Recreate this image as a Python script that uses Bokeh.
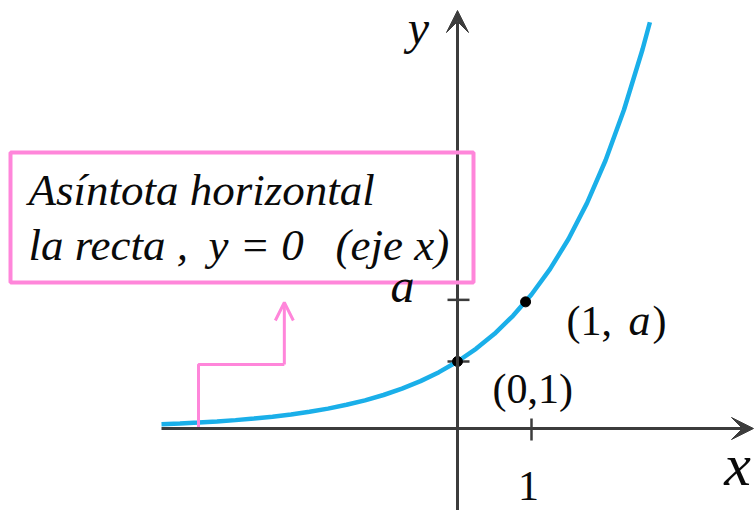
from bokeh.plotting import figure
from bokeh.models import Range1d, Arrow, VeeHead, OpenHead, BoxAnnotation, Label
from bokeh.embed import file_html
from bokeh.resources import INLINE

# ---- data (curve y = a^x, a ~ 2) ----
curve_x = [-4.0, -3.75, -3.5, -3.25, -3.0, -2.75, -2.5, -2.25, -2.0, -1.75, -1.5,
           -1.25, -1.0, -0.75, -0.5, -0.25, 0.0, 0.25, 0.5, 0.75, 1.0, 1.25, 1.5,
           1.75, 2.0, 2.25, 2.5, 2.6]
curve_y = [0.063, 0.074, 0.088, 0.105, 0.125, 0.149, 0.177, 0.210, 0.25, 0.297, 0.354,
           0.420, 0.5, 0.595, 0.707, 0.841, 1.0, 1.189, 1.414, 1.682, 2.0, 2.378, 2.828,
           3.364, 4.0, 4.757, 5.657, 6.063]
point_x = [0.0, 0.92]
point_y = [1.0, 1.89]
x_tick_values = [1.0]
x_tick_labels = ["1"]
y_tick_values = [1.0, 1.92]
y_tick_labels = ["", "a"]
pointer_x = [-3.5, -3.5, -2.34, -2.34]
pointer_y = [0.0, 0.955, 0.955, 1.88]

# ---- layout helpers (page pixel -> data) ----
X0, Y0, UX, UY = 457.0, 428.0, 74.0, 67.0
def X(px):
    return (px - X0) / UX
def Y(py):
    return (Y0 - py) / UY

W, H = 756, 510
p = figure(width=W, height=H, output_backend="svg", toolbar_location=None,
           x_range=Range1d(X(0), X(W)), y_range=Range1d(Y(H), Y(0)),
           x_axis_location=None, y_axis_location=None, min_border=0)
p.grid.visible = False
p.outline_line_color = None
p.background_fill_color = "white"
p.border_fill_color = "white"

AX = "#3c3c3c"
PINK = "#ff86da"
BLUE = "#1aafe9"
SERIF = "Liberation Serif"
TXT = "#0a0a0a"

# axes with arrowheads
p.add_layout(Arrow(end=VeeHead(size=22, fill_color=AX, line_color=AX),
                   x_start=curve_x[0], y_start=0, x_end=X(753), y_end=0,
                   line_color=AX, line_width=3))
p.add_layout(Arrow(end=VeeHead(size=22, fill_color=AX, line_color=AX),
                   x_start=0, y_start=Y(520), x_end=0, y_end=Y(10),
                   line_color=AX, line_width=3))

# ticks
p.segment(x0=x_tick_values, x1=x_tick_values,
          y0=[Y(418)] * len(x_tick_values), y1=[Y(440)] * len(x_tick_values),
          line_color=AX, line_width=2.5)
p.segment(x0=[X(447)] * len(y_tick_values), x1=[X(469)] * len(y_tick_values),
          y0=y_tick_values, y1=y_tick_values, line_color=AX, line_width=2.5)

# curve
p.line(curve_x, curve_y, line_color=BLUE, line_width=4.5)
p.scatter(point_x, point_y, size=10, color="black")

# pointer arrow
p.line(pointer_x[:3], pointer_y[:3], line_color=PINK, line_width=3)
p.add_layout(Arrow(end=OpenHead(size=18, line_color=PINK, line_width=3),
                   x_start=pointer_x[2], y_start=pointer_y[2],
                   x_end=pointer_x[3], y_end=pointer_y[3],
                   line_color=PINK, line_width=3))

# annotation box
p.add_layout(BoxAnnotation(left=X(10), right=X(473), top=Y(152), bottom=Y(282),
                           fill_alpha=0, line_color=PINK, line_alpha=1.0, line_width=4))

SHIFT = 0.35  # compensation so that the glyph baseline lands at py

def lab(text, px, py, size, italic=True, align="left"):
    p.add_layout(Label(x=X(px), y=Y(py - SHIFT * size), text=text, text_font=SERIF,
                       text_font_style="italic" if italic else "normal",
                       text_font_size=f"{size}px", text_color=TXT,
                       text_align=align, text_baseline="alphabetic"))

# box texts
lab("Asíntota horizontal", 28, 205, 45)
lab("la recta ,", 28, 260, 45)
lab("y = 0", 208, 260, 45)
lab("(eje x)", 335, 260, 45)

# axis names
lab("y", 418, 44, 48, align="center")
lab("x", 737, 485, 60, align="center")

# tick labels
lab(x_tick_labels[0], 528, 500, 42, italic=False, align="center")
lab(y_tick_labels[1], 402, 302, 48, align="center")

# point labels
lab("(1,", 566, 335, 42, italic=False)
lab("a", 628, 335, 44)
lab(")", 652, 335, 42, italic=False)
lab("(0,1)", 492, 403, 42, italic=False)

open("out.html", "w").write(file_html(p, INLINE))
